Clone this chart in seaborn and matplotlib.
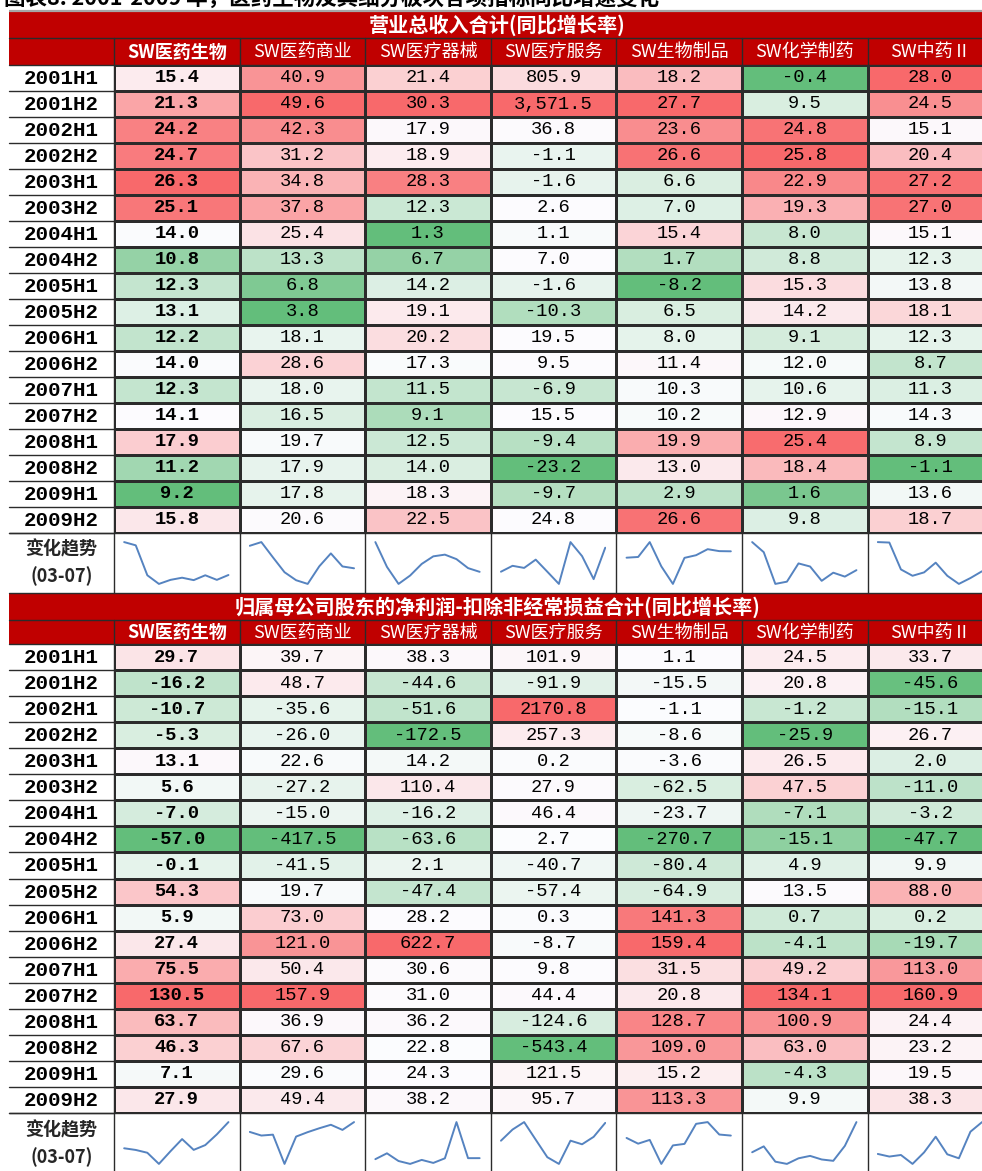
import numpy as np
import pandas as pd
import matplotlib
matplotlib.use("Agg")
import matplotlib.pyplot as plt
import seaborn as sns
from matplotlib.colors import LinearSegmentedColormap
from matplotlib.patches import Rectangle

# ---------------- data ----------------
periods = ["2001H1", "2001H2", "2002H1", "2002H2", "2003H1", "2003H2", "2004H1", "2004H2",
           "2005H1", "2005H2", "2006H1", "2006H2", "2007H1", "2007H2", "2008H1", "2008H2",
           "2009H1", "2009H2"]
sectors = ["SW医药生物", "SW医药商业", "SW医疗器械", "SW医疗服务", "SW生物制品", "SW化学制药", "SW中药Ⅱ"]

title_main = "图表8: 2001-2009 年，医药生物及其细分板块各项指标同比增速变化"
title_rev = "营业总收入合计(同比增长率)"
title_np = "归属母公司股东的净利润-扣除非经常损益合计(同比增长率)"
trend_label = "变化趋势\n(03-07)"

# 营业总收入 同比增长率 (%)
rev_yiyao = [15.4, 21.3, 24.2, 24.7, 26.3, 25.1, 14.0, 10.8, 12.3, 13.1, 12.2, 14.0, 12.3, 14.1, 17.9, 11.2, 9.2, 15.8]
rev_shangye = [40.9, 49.6, 42.3, 31.2, 34.8, 37.8, 25.4, 13.3, 6.8, 3.8, 18.1, 28.6, 18.0, 16.5, 19.7, 17.9, 17.8, 20.6]
rev_qixie = [21.4, 30.3, 17.9, 18.9, 28.3, 12.3, 1.3, 6.7, 14.2, 19.1, 20.2, 17.3, 11.5, 9.1, 12.5, 14.0, 18.3, 22.5]
rev_fuwu = [805.9, 3571.5, 36.8, -1.1, -1.6, 2.6, 1.1, 7.0, -1.6, -10.3, 19.5, 9.5, -6.9, 15.5, -9.4, -23.2, -9.7, 24.8]
rev_shengwu = [18.2, 27.7, 23.6, 26.6, 6.6, 7.0, 15.4, 1.7, -8.2, 6.5, 8.0, 11.4, 10.3, 10.2, 19.9, 13.0, 2.9, 26.6]
rev_huaxue = [-0.4, 9.5, 24.8, 25.8, 22.9, 19.3, 8.0, 8.8, 15.3, 14.2, 9.1, 12.0, 10.6, 12.9, 25.4, 18.4, 1.6, 9.8]
rev_zhongyao = [28.0, 24.5, 15.1, 20.4, 27.2, 27.0, 15.1, 12.3, 13.8, 18.1, 12.3, 8.7, 11.3, 14.3, 8.9, -1.1, 13.6, 18.7]

# 扣非归母净利润 同比增长率 (%)
np_yiyao = [29.7, -16.2, -10.7, -5.3, 13.1, 5.6, -7.0, -57.0, -0.1, 54.3, 5.9, 27.4, 75.5, 130.5, 63.7, 46.3, 7.1, 27.9]
np_shangye = [39.7, 48.7, -35.6, -26.0, 22.6, -27.2, -15.0, -417.5, -41.5, 19.7, 73.0, 121.0, 50.4, 157.9, 36.9, 67.6, 29.6, 49.4]
np_qixie = [38.3, -44.6, -51.6, -172.5, 14.2, 110.4, -16.2, -63.6, 2.1, -47.4, 28.2, 622.7, 30.6, 31.0, 36.2, 22.8, 24.3, 38.2]
np_fuwu = [101.9, -91.9, 2170.8, 257.3, 0.2, 27.9, 46.4, 2.7, -40.7, -57.4, 0.3, -8.7, 9.8, 44.4, -124.6, -543.4, 121.5, 95.7]
np_shengwu = [1.1, -15.5, -1.1, -8.6, -3.6, -62.5, -23.7, -270.7, -80.4, -64.9, 141.3, 159.4, 31.5, 20.8, 128.7, 109.0, 15.2, 113.3]
np_huaxue = [24.5, 20.8, -1.2, -25.9, 26.5, 47.5, -7.1, -15.1, 4.9, 13.5, 0.7, -4.1, 49.2, 134.1, 100.9, 63.0, -4.3, 9.9]
np_zhongyao = [33.7, -45.6, -15.1, 26.7, 2.0, -11.0, -3.2, -47.7, 9.9, 88.0, 0.2, -19.7, 113.0, 160.9, 24.4, 23.2, 19.5, 38.3]

rev_df = pd.DataFrame(dict(zip(sectors, [rev_yiyao, rev_shangye, rev_qixie, rev_fuwu,
                                         rev_shengwu, rev_huaxue, rev_zhongyao])), index=periods)
np_df = pd.DataFrame(dict(zip(sectors, [np_yiyao, np_shangye, np_qixie, np_fuwu,
                                        np_shengwu, np_huaxue, np_zhongyao])), index=periods)
trend_periods = periods[4:14]  # 2003H1 - 2007H2

# ---------------- style ----------------
sns.set_theme(style="white")
plt.rcParams["font.family"] = ["Noto Sans CJK SC", "DejaVu Sans"]

W, H = 982, 1171
fig = plt.figure(figsize=(W / 100, H / 100), dpi=100)
fig.patch.set_facecolor("white")


def add_ax(x0, y0, x1, y1, **kw):
    return fig.add_axes([x0 / W, 1 - y1 / H, (x1 - x0) / W, (y1 - y0) / H], **kw)


RED = "#C00000"
LINE = "#2b2b2b"
SPARK = "#5583C0"
cmap = LinearSegmentedColormap.from_list("excel3", ["#63BE7B", "#FCFCFF", "#F8696B"])

X0, XL, CW = 9, 114, 125.6
XR = XL + 7 * CW

ov = add_ax(0, 0, W, H)
ov.set_xlim(0, W)
ov.set_ylim(H, 0)
ov.axis("off")
ov.set_zorder(10)
ov.patch.set_alpha(0)

# caption at the very top (cropped in the reference as well)
ov.text(4, 9.0, title_main, va="bottom", ha="left", fontsize=15.5, fontweight="bold", color="black")
ov.plot([X0, W], [11, 11], color="#A6A6A6", lw=1.6, solid_capstyle="butt")


def column_scale(df):
    out = df.copy().astype(float)
    for c in df.columns:
        v = df[c].astype(float)
        lo, med, hi = v.min(), v.median(), v.max()
        out[c] = np.where(v <= med, 0.5 * (v - lo) / (med - lo), 0.5 + 0.5 * (v - med) / (hi - med))
    return out


def draw_block(df, block_title, y_title, y_hdr, y_data, y_end, y_spark_end, fmt):
    n = len(df)
    rh = (y_end - y_data) / n
    # red title band + header row
    ov.add_patch(Rectangle((X0, y_title), XR - X0, y_data - y_title, facecolor=RED, edgecolor="none", zorder=0))
    ov.text((X0 + XR) / 2 - 4, (y_title + y_hdr) / 2 + 0.5, block_title, ha="center", va="center",
            color="white", fontsize=14.5, fontweight="bold")
    ov.plot([X0, XR], [y_hdr, y_hdr], color=LINE, lw=1.0)
    for i, s in enumerate(df.columns):
        xc = XL + (i + 0.5) * CW
        ov.text(xc, (y_hdr + y_data) / 2 + 0.5, s, ha="center", va="center", color="white",
                fontsize=13, fontweight="bold" if i == 0 else "normal")
    for i in range(8):
        ov.plot([XL + i * CW] * 2, [y_hdr, y_data], color=LINE, lw=1.0)

    # heat-coloured data cells
    hax = add_ax(XL, y_data, XR, y_end)
    labels = df.map(lambda v: fmt.format(v))
    sns.heatmap(column_scale(df), ax=hax, cmap=cmap, vmin=0, vmax=1, cbar=False,
                annot=labels.values, fmt="", linewidths=1.0, linecolor=LINE,
                annot_kws={"fontsize": 13.5, "family": "Liberation Mono", "color": "black"})
    hax.set_xticks([])
    hax.set_yticks([])
    hax.set_xlabel("")
    hax.set_ylabel("")
    for t in hax.texts:
        if t.get_position()[0] < 1:
            t.set_fontweight("bold")

    # row-label column
    ov.add_patch(Rectangle((X0, y_data), XL - X0, y_end - y_data, facecolor="white", edgecolor="none", zorder=0))
    for r, p in enumerate(df.index):
        yc = y_data + (r + 0.5) * rh
        ov.text((X0 + XL) / 2, yc + 0.5, p, ha="center", va="center", fontsize=15,
                fontweight="bold", family="Liberation Mono", color="black")
        ov.plot([X0, XL], [y_data + (r + 1) * rh] * 2, color=LINE, lw=1.0)
    ov.plot([X0, XR], [y_data, y_data], color=LINE, lw=1.0)
    ov.plot([XL, XL], [y_data, y_end], color=LINE, lw=1.0)

    # trend (sparkline) row
    ov.plot([X0, XR], [y_end, y_end], color=LINE, lw=1.0)
    for i in range(8):
        ov.plot([XL + i * CW] * 2, [y_end, y_spark_end], color=LINE, lw=1.0)
    ov.plot([X0, XR], [y_spark_end, y_spark_end], color=LINE, lw=1.0)
    ov.text((X0 + XL) / 2, min(y_end + 31, y_end + (y_spark_end - y_end) / 2), trend_label,
            ha="center", va="center", fontsize=13, fontweight="bold", linespacing=1.5)
    sub = df.loc[trend_periods]
    for i, s in enumerate(df.columns):
        x0 = XL + i * CW + 9
        x1 = XL + (i + 1) * CW - 10
        sax = add_ax(x0, y_end + 7, x1, y_end + 53)
        sns.lineplot(x=np.arange(len(sub)), y=sub[s].values, ax=sax, color=SPARK, lw=1.4)
        sax.set_xlim(-0.1, len(sub) - 0.9)
        sax.axis("off")
        sax.patch.set_alpha(0)


draw_block(rev_df, title_rev, 12, 38, 65, 533, 593, "{:,.1f}")
draw_block(np_df, title_np, 593, 620, 644, 1113, 1176, "{:.1f}")

fig.savefig("out.png", dpi=100, facecolor="white")
